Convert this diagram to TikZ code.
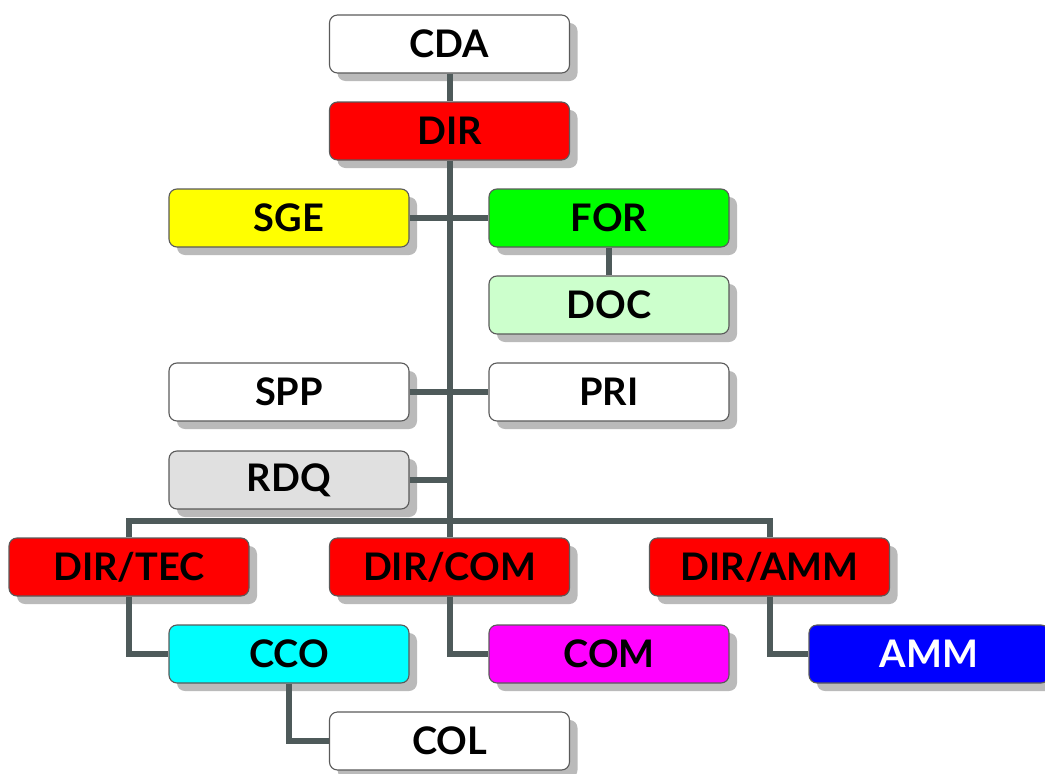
\documentclass[tikz,border=0pt]{standalone}
\usepackage{fontspec}
\setmainfont{Lato}
\usetikzlibrary{shadows}
\definecolor{linkgray}{RGB}{78,90,90}
\definecolor{shadowgray}{RGB}{186,186,186}
\definecolor{pureyellow}{RGB}{255,255,0}
\definecolor{purecyan}{RGB}{0,255,255}
\definecolor{puremagenta}{RGB}{255,0,255}
\definecolor{purered}{RGB}{255,0,0}
\definecolor{puregreen}{RGB}{0,255,0}
\definecolor{pureblue}{RGB}{0,0,255}
\definecolor{docgreen}{RGB}{204,255,204}
\definecolor{rdqgray}{RGB}{224,224,224}
\tikzset{
  unit/.style={draw={rgb,255:red,90;green,90;blue,90}, line width=1.1pt,
    rounded corners=8pt, minimum width=240pt, minimum height=58pt,
    inner sep=0pt, font=\fontsize{38}{44}\selectfont\bfseries,
    drop shadow={shadow xshift=8pt, shadow yshift=-8pt, fill=shadowgray, opacity=1, draw=none}},
  link/.style={draw=linkgray, line width=6pt}
}
\begin{document}
\begin{tikzpicture}[x=1pt, y=-1pt]
\useasboundingbox (0,0) rectangle (1045,774);

% units of the organisation chart
\node[unit, fill=white]       (cda)  at (449.5,44)  {CDA};
\node[unit, fill=purered]     (dir)  at (449.5,131) {DIR};
\node[unit, fill=pureyellow]  (sge)  at (289,218)   {SGE};
\node[unit, fill=puregreen]   (for)  at (609,218)   {FOR};
\node[unit, fill=docgreen]    (doc)  at (609,305)   {DOC};
\node[unit, fill=white]       (spp)  at (289,392)   {SPP};
\node[unit, fill=white]       (pri)  at (609,392)   {PRI};
\node[unit, fill=rdqgray]     (rdq)  at (289,480)   {RDQ};
\node[unit, fill=purered]     (dtec) at (129,567)   {DIR/TEC};
\node[unit, fill=purered]     (dcom) at (449.5,567) {DIR/COM};
\node[unit, fill=purered]     (damm) at (769.5,567) {DIR/AMM};
\node[unit, fill=purecyan]    (cco)  at (289,654)   {CCO};
\node[unit, fill=puremagenta] (com)  at (609,654)   {COM};
\node[unit, fill=pureblue, text=white] (amm) at (929,654) {AMM};
\node[unit, fill=white]       (col)  at (449.5,741) {COL};

% reporting lines
\coordinate (bus) at (449.5,521);
\draw[link] (cda) -- (dir);
\draw[link] (dir.south) -- (bus);
\draw[link] (sge.east) -- (for.west);
\draw[link] (for) -- (doc);
\draw[link] (spp.east) -- (pri.west);
\draw[link] (rdq.east) -- (rdq.east -| bus);
\draw[link] (dtec.north) |- (bus) -| (damm.north);
\draw[link] (bus) -- (dcom.north);
\draw[link] (dtec.south) |- (cco.west);
\draw[link] (dcom.south) |- (com.west);
\draw[link] (damm.south) |- (amm.west);
\draw[link] (cco.south) |- (col.west);
\end{tikzpicture}
\end{document}
